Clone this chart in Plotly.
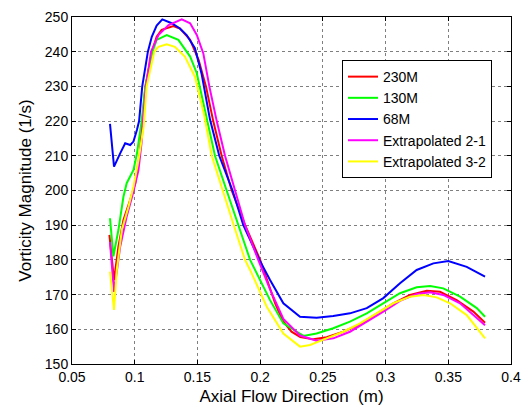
import plotly.graph_objects as go

# ---- data ----
x_230 = [0.0798,0.0835,0.087,0.091,0.0964,0.1004,0.104,0.106,0.1085,0.1137,0.1175,0.1215,0.1308,0.136,0.1442,0.151,0.1568,0.1626,0.1693,0.1773,0.188,0.2,0.206,0.212,0.218,0.225,0.232,0.2424,0.253,0.2663,0.2796,0.293,0.3062,0.3195,0.3328,0.3434,0.3567,0.37,0.3793]
y_230 = [187.2,174.2,183.8,191.5,197.3,202.1,210.7,220,230,240,244.3,246.3,247.4,246.7,243.4,237.6,230,220,210,200,190,180,173.5,167.5,162.5,159.3,157.8,157.1,157.7,159.3,161.5,164.6,167.5,169.9,171.1,170.8,168.4,165.1,161.9]

x_130 = [0.0803,0.083,0.087,0.091,0.0936,0.099,0.1018,0.1044,0.1055,0.1085,0.1142,0.1175,0.1255,0.1348,0.1442,0.1495,0.156,0.164,0.1733,0.1826,0.192,0.2079,0.2185,0.2345,0.245,0.2583,0.2716,0.285,0.2982,0.3115,0.3248,0.3356,0.346,0.3594,0.3727,0.3793]
y_130 = [192,181,188.6,198.2,202.1,205.9,210.7,216.5,220,230,240,243.4,244.8,243.4,238.6,233.8,223.5,210,200,190,180,168.4,161.7,158.1,158.8,160.3,162.2,164.6,167.5,170.4,172.1,172.5,171.8,169.4,166.1,163.6]

x_68 = [0.0803,0.0835,0.0884,0.0924,0.0964,0.099,0.1018,0.1035,0.106,0.1105,0.1136,0.1175,0.122,0.1295,0.136,0.1414,0.148,0.1534,0.16,0.1674,0.178,0.1866,0.1994,0.2079,0.2185,0.2318,0.245,0.2583,0.2716,0.285,0.2982,0.3115,0.3248,0.3381,0.35,0.3647,0.3793]
y_68 = [219.2,206.9,210.7,213.6,213.1,214.1,217.5,220,230,240,244.3,247.5,249.3,248.2,246.7,244.8,241,233.5,220.5,210,200,190,180,174.2,167.5,163.6,163.3,163.8,164.6,166.1,169.0,173.3,177.1,179.0,179.7,178.0,175.2]

x_e21 = [0.0803,0.0835,0.0884,0.0936,0.099,0.103,0.1057,0.1065,0.109,0.113,0.1189,0.127,0.1375,0.1442,0.1495,0.1547,0.1595,0.1654,0.172,0.180,0.188,0.1985,0.2079,0.2185,0.2318,0.245,0.2583,0.2716,0.285,0.2982,0.3115,0.3248,0.3356,0.346,0.3594,0.3793]
y_e21 = [185.2,170.8,183.8,192.5,199.7,205.9,214.6,220,230,240,244.8,247.7,249.3,248.2,244.8,239.5,230,220,210,200,190,180,171.5,163,158.2,156.7,157.4,159.3,162.2,165.1,168.2,170.2,170.7,169.9,167.5,161.2]

x_e32 = [0.0803,0.0835,0.0857,0.0897,0.095,0.099,0.103,0.1071,0.1095,0.1156,0.1189,0.1255,0.132,0.140,0.148,0.1552,0.1614,0.170,0.179,0.188,0.192,0.2053,0.2185,0.2318,0.2398,0.253,0.2663,0.2796,0.293,0.3062,0.3195,0.3302,0.3408,0.3514,0.3647,0.3793]
y_e32 = [176.6,165.6,177.1,188.6,195.3,201.1,208.8,218.4,230,240,241.4,242.1,241.4,238.6,232.8,222,210,200,190,180,177.1,166.5,158.8,155,155.5,157.4,159.3,161.7,164.6,167.5,169.4,169.9,169.2,167.5,164.1,157.4]

series_names = ["230M", "130M", "68M", "Extrapolated 2-1", "Extrapolated 3-2"]
series_colors = ["#FF0000", "#00FF00", "#0000FF", "#FF00FF", "#FFFF00"]
series_x = [x_230, x_130, x_68, x_e21, x_e32]
series_y = [y_230, y_130, y_68, y_e21, y_e32]

x_ticks = [0.05, 0.1, 0.15, 0.2, 0.25, 0.3, 0.35, 0.4]
y_ticks = [150, 160, 170, 180, 190, 200, 210, 220, 230, 240, 250]

FONT = "Arial, Liberation Sans, sans-serif"

fig = go.Figure()
for name, col, xs, ys in zip(series_names, series_colors, series_x, series_y):
    fig.add_trace(go.Scatter(x=xs, y=ys, mode="lines", name=name,
                             line=dict(color=col, width=2)))

axis_common = dict(
    showline=True, linecolor="black", linewidth=1, mirror="ticks",
    ticks="inside", ticklen=4, tickcolor="black",
    showgrid=True, gridcolor="#7f7f7f", griddash="dot", gridwidth=1,
    zeroline=False, tickfont=dict(family=FONT, size=14, color="black"),
    automargin=True,
)

fig.update_xaxes(range=[0.05, 0.4], tickvals=x_ticks,
                 ticktext=[f"{v:g}" for v in x_ticks],
                 title=dict(text="Axial Flow Direction  (m)",
                            font=dict(family=FONT, size=17, color="black"),
                            standoff=6),
                 **axis_common)
fig.update_yaxes(range=[150, 250], tickvals=y_ticks,
                 title=dict(text="Vorticity Magnitude (1/s)",
                            font=dict(family=FONT, size=17, color="black"),
                            standoff=8),
                 **axis_common)

fig.update_layout(
    width=524, height=407,
    margin=dict(l=72, r=13, t=17, b=43, autoexpand=False),
    paper_bgcolor="white", plot_bgcolor="white",
    font=dict(family=FONT, color="black"),
    showlegend=True,
    legend=dict(x=0.615, y=0.876, xanchor="left", yanchor="top",
                bgcolor="white", bordercolor="black", borderwidth=1,
                font=dict(family=FONT, size=14, color="black"),
                tracegroupgap=0),
)

fig.write_html("out.html")
